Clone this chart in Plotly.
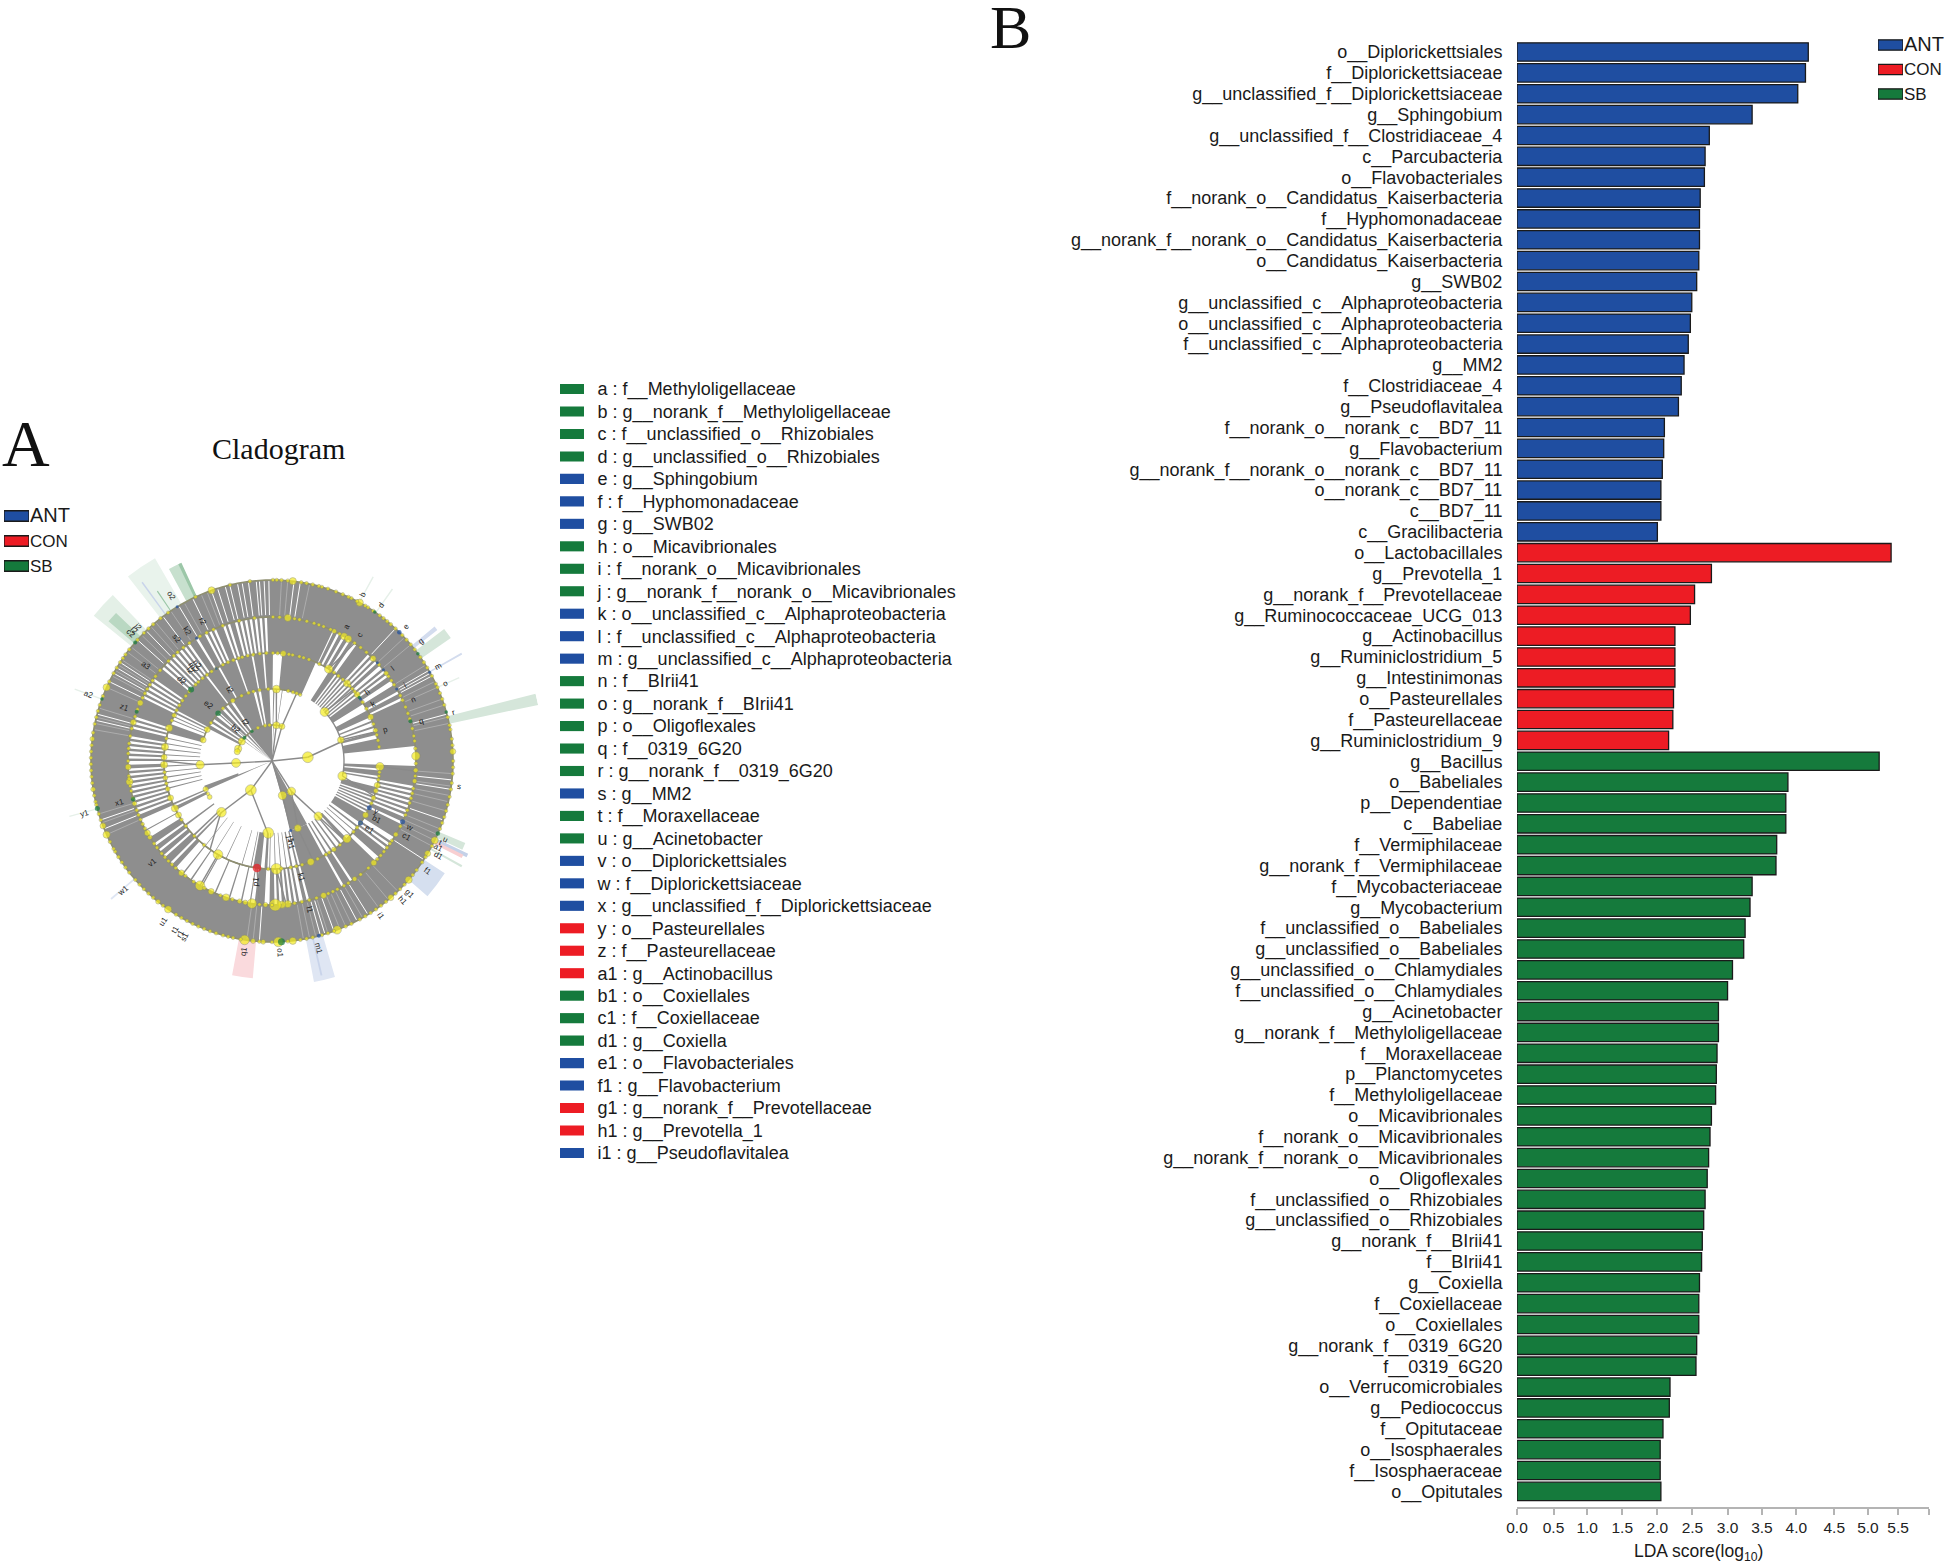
import numpy as np
import plotly.graph_objects as go

W, H = 1946, 1563
BLUE, RED, GREEN = "#1f4ea1", "#ed1c24", "#157a3c"
GROUP_COLOR = {"A": BLUE, "C": RED, "S": GREEN}
INK = "#1a1a1a"

# ---------- panel B: LDA bars ----------
ANT_NAMES = ["o__Diplorickettsiales", "f__Diplorickettsiaceae", "g__unclassified_f__Diplorickettsiaceae", "g__Sphingobium",
             "g__unclassified_f__Clostridiaceae_4", "c__Parcubacteria", "o__Flavobacteriales",
             "f__norank_o__Candidatus_Kaiserbacteria", "f__Hyphomonadaceae", "g__norank_f__norank_o__Candidatus_Kaiserbacteria",
             "o__Candidatus_Kaiserbacteria", "g__SWB02", "g__unclassified_c__Alphaproteobacteria",
             "o__unclassified_c__Alphaproteobacteria", "f__unclassified_c__Alphaproteobacteria", "g__MM2", "f__Clostridiaceae_4",
             "g__Pseudoflavitalea", "f__norank_o__norank_c__BD7_11", "g__Flavobacterium", "g__norank_f__norank_o__norank_c__BD7_11",
             "o__norank_c__BD7_11", "c__BD7_11", "c__Gracilibacteria"]
ANT_VALUES = [4.15, 4.11, 4.00, 3.35, 2.74, 2.68, 2.67, 2.61, 2.60, 2.60, 2.59, 2.56, 2.49, 2.47, 2.44, 2.38, 2.34, 2.30,
              2.10, 2.09, 2.07, 2.05, 2.05, 2.00]
CON_NAMES = ["o__Lactobacillales", "g__Prevotella_1", "g__norank_f__Prevotellaceae", "g__Ruminococcaceae_UCG_013",
             "g__Actinobacillus", "g__Ruminiclostridium_5", "g__Intestinimonas", "o__Pasteurellales", "f__Pasteurellaceae",
             "g__Ruminiclostridium_9"]
CON_VALUES = [5.33, 2.77, 2.53, 2.47, 2.25, 2.25, 2.25, 2.23, 2.22, 2.16]
SB_NAMES = ["g__Bacillus", "o__Babeliales", "p__Dependentiae", "c__Babeliae", "f__Vermiphilaceae", "g__norank_f__Vermiphilaceae",
            "f__Mycobacteriaceae", "g__Mycobacterium", "f__unclassified_o__Babeliales", "g__unclassified_o__Babeliales",
            "g__unclassified_o__Chlamydiales", "f__unclassified_o__Chlamydiales", "g__Acinetobacter",
            "g__norank_f__Methyloligellaceae", "f__Moraxellaceae", "p__Planctomycetes", "f__Methyloligellaceae", "o__Micavibrionales",
            "f__norank_o__Micavibrionales", "g__norank_f__norank_o__Micavibrionales", "o__Oligoflexales",
            "f__unclassified_o__Rhizobiales", "g__unclassified_o__Rhizobiales", "g__norank_f__BIrii41", "f__BIrii41", "g__Coxiella",
            "f__Coxiellaceae", "o__Coxiellales", "g__norank_f__0319_6G20", "f__0319_6G20", "o__Verrucomicrobiales", "g__Pediococcus",
            "f__Opitutaceae", "o__Isosphaerales", "f__Isosphaeraceae", "o__Opitutales"]
SB_VALUES = [5.16, 3.86, 3.83, 3.83, 3.70, 3.69, 3.35, 3.32, 3.25, 3.23, 3.07, 3.00, 2.87, 2.87, 2.85, 2.84, 2.83, 2.77, 2.75,
             2.73, 2.71, 2.68, 2.66, 2.64, 2.63, 2.60, 2.59, 2.59, 2.56, 2.55, 2.18, 2.17, 2.08, 2.04, 2.04, 2.05]
X_TICK_POS = [0, 0.52, 1.0, 1.5, 2.0, 2.5, 3.0, 3.49, 3.98, 4.52, 5.0, 5.43]
X_TICK_TEXT = ["0.0", "0.5", "1.0", "1.5", "2.0", "2.5", "3.0", "3.5", "4.0", "4.5", "5.0", "5.5"]
X_END_TICK = [5.87]

# ---------- legends ----------
LEGEND_NAMES = ["ANT", "CON", "SB"]
LEGEND_BARS = [1, 1, 1]

# ---------- panel A: key ----------
KEY_LABELS = ["a : f__Methyloligellaceae", "b : g__norank_f__Methyloligellaceae", "c : f__unclassified_o__Rhizobiales",
              "d : g__unclassified_o__Rhizobiales", "e : g__Sphingobium", "f : f__Hyphomonadaceae", "g : g__SWB02",
              "h : o__Micavibrionales", "i : f__norank_o__Micavibrionales", "j : g__norank_f__norank_o__Micavibrionales",
              "k : o__unclassified_c__Alphaproteobacteria", "l : f__unclassified_c__Alphaproteobacteria",
              "m : g__unclassified_c__Alphaproteobacteria", "n : f__BIrii41", "o : g__norank_f__BIrii41", "p : o__Oligoflexales",
              "q : f__0319_6G20", "r : g__norank_f__0319_6G20", "s : g__MM2", "t : f__Moraxellaceae", "u : g__Acinetobacter",
              "v : o__Diplorickettsiales", "w : f__Diplorickettsiaceae", "x : g__unclassified_f__Diplorickettsiaceae",
              "y : o__Pasteurellales", "z : f__Pasteurellaceae", "a1 : g__Actinobacillus", "b1 : o__Coxiellales", "c1 : f__Coxiellaceae",
              "d1 : g__Coxiella", "e1 : o__Flavobacteriales", "f1 : g__Flavobacterium", "g1 : g__norank_f__Prevotellaceae",
              "h1 : g__Prevotella_1", "i1 : g__Pseudoflavitalea"]
KEY_GROUPS = list("SSSSAAASSSAAASSSSSASSAAACCCSSSAACCA")
KEY_BARS = [1] * 35

# ---------- panel A: cladogram sectors, (start, end) in degrees clockwise from the top ----------
BAND_E = [(0, 360)]
BAND_E_SLITS = [-19.6, -17.5, -15, -13.5, -11, -9.5, -7.5, -5, -4, -2.5, -1, 7, 9, 43, 60, 61, 62, 75, 96, 99, 109, 123, 148,
                152, 160, 163, 164.5, 184, 248, 251, 283, 285, 296, 299, 301, 303, 312, 316, 323, 329, 334]
BAND_E_STREAKS = [-23, -21, 3, 5, 12, 47, 50, 58, 64, 66, 70, 72, 76, 78, 94, 98, 101, 103, 106, 112, 114, 116, 118, 136, 140, 144, 150,
                  154, 156, 158, 162, 166, 168, 170, 186, 188, 246, 250, 253, 280, 282, 284, 287, 294, 298, 300, 302, 304, 307, 309, 314,
                  318, 320, 326, 331]
BAND_D = [(0, 25), (25.5, 27), (28, 29.5), (30.5, 32), (33, 34.5), (36, 42), (43, 44), (45, 46), (47, 48.5), (50, 51), (52, 53),
          (54, 56), (58, 61), (62, 64), (65, 84), (92, 100), (101, 102), (103, 104), (105, 106), (107, 108), (109, 110), (111, 112),
          (113, 115), (116, 122), (124, 125), (126, 127), (128, 132), (134, 146), (147, 150), (151, 165), (166, 167.5), (169, 170),
          (171, 172), (173, 174), (175, 176), (177, 178), (179, 181), (183, 187), (188.5, 189), (192, 192.6), (197, 197.6),
          (203, 203.6), (209, 209.5), (214, 214.6), (218, 218.6), (222, 224), (225, 228), (229, 231), (232, 234), (235, 238),
          (241, 241.5), (246, 248), (249, 250), (251, 252), (253, 254), (255, 256), (257, 258), (259, 260), (261, 262), (263, 264),
          (265, 266), (267, 268.5), (270, 271), (272, 273), (274, 275), (276, 277), (278, 279), (280, 283), (284, 285), (286, 287),
          (288, 296), (297, 298), (299, 300), (301, 302), (303, 304), (305, 310), (311, 312), (313, 314), (315, 316), (317, 318),
          (319, 320), (321, 322), (323, 324), (325, 328), (329, 332), (333, 334), (335, 336), (337, 340), (341, 342), (343, 345),
          (346, 347), (348, 349), (350, 351), (352, 353), (354, 355), (356, 357), (358, 360)]
BAND_C = [(0, 0.5), (5.5, 24), (32.5, 36), (37, 38), (39, 40), (41, 42), (43, 44), (45, 46), (47, 48), (49, 50), (51, 52), (53, 58),
          (62, 66), (68, 69), (71, 72), (74, 76), (78, 84), (92, 94), (95, 98), (99, 100), (104, 108), (109, 110), (111, 112),
          (113, 114), (115, 116), (117, 118), (119, 125), (127, 128), (130, 130.6), (133, 133.6), (136, 138), (140, 141), (143, 144),
          (146, 147), (149, 150), (151.5, 165), (166, 167), (169, 170), (172, 172.5), (175, 175.5), (178, 178.5), (181, 181.5),
          (183, 184), (186, 190), (191, 191.5), (196, 196.4), (205, 205.4), (212, 212.4), (218, 218.4), (224, 225), (226, 227),
          (233, 234), (243, 245), (246, 247), (255, 255.6), (258, 258.6), (261, 261.6), (264, 264.6), (267, 267.6), (270, 270.6),
          (273, 273.6), (276, 276.6), (279, 279.6), (282, 282.6), (285, 290), (292, 292.6), (294, 294.6), (296, 297), (298, 322),
          (323, 330), (331, 340), (341, 349), (350, 355), (356, 360)]
BAND_B = [(297, 300), (302, 304), (306, 309), (311, 312), (313, 316), (318, 320), (322, 325), (327, 345), (347, 349), (351, 358),
          (1, 2), (8, 8.6), (151, 165), (246, 250)]
BAND_A = [(305, 306), (310, 311.5), (315, 318), (320, 360), (2, 3), (151, 165), (246, 248)]
BAND_EDGES = [(144, 181), (108, 144), (72, 108), (36, 72), (0, 36)]
BAND_SECTORS = [BAND_E, BAND_D, BAND_C, BAND_B, BAND_A]

# highlights
CLADE_THETA = [-34, -26.6, -47.3, -48, 187.8, 166.5, 127, 76.9, 54, 51, 60.5, 66, 28.8, 35, 114, 115.8, 116.6, 119, 254.7, 290, 229.4,
               -36, -34, -25, 167]
CLADE_WIDTH = [8, 3.2, 7, 3, 5.5, 5.5, 8, 2.4, 3, 1.2, 0.5, 0.4, 0.4, 0.4, 2, 1, 1, 0.6, 0.4, 0.4, 0.5, 0.4, 0.35, 0.9, 0.5]
CLADE_BASE = [181] * 25
CLADE_TOP = [234, 218, 230, 215, 218, 225, 206, 272, 217, 211, 218, 205, 210, 210, 210, 217, 213, 217, 210, 210, 212, 221, 205, 218, 220]
CLADE_COLOR = ["#e9f3ec", "#c7e0ce", "#e4f0e7", "#b9d8c2", "#fadadd", "#dfe6f3", "#d5dfef", "#d5e6da", "#d5e6da", "#d3dcee", "#d3dcee",
               "#e6f0e9", "#e6f0e9", "#e6f0e9", "#d5e6da", "#c4d1e8", "#f8cfd1", "#d5e6da", "#e6f0e9", "#e6f0e9", "#dfe6f3", "#c9d4ea",
               "#9cc7a8", "#9cc7a8", "#c9d4ea"]

# tree links: parent theta, parent r, arc start, arc end, arc r
LINK_PT = [84, 267, 216, 163, 147.5, 7, 16, 84, 267, 216, 216, 147.5, 147.5, 163, 7, 16, 47, 73, 102, 140, 159, 183, 224.6, 267,
           31.7, 93, 210, 177.7, 188]
LINK_PR = [0, 0, 0, 0, 0, 0, 0, 36, 37, 36, 36, 36, 36, 36, 36, 36, 72, 72, 72, 72, 72, 73, 73, 73, 108, 108, 109, 108, 108]
LINK_A = [84, 267, 216, 163, 147.5, 7, 16, 47, 267, 183, 224.6, 140, 159, 165, 3.5, 20, 31.7, 66, 93, 125, 150, 177.7, 190, 240,
          25, 88, 198, 170, 182]
LINK_B = [84, 267, 216, 163, 147.5, 7, 16, 102, 267, 183, 224.6, 140, 159, 165, 3.5, 20, 66, 82.5, 125, 150, 165, 188, 240, 300,
          45, 100, 222, 178.7, 188]
LINK_R = [36, 37, 36, 36, 36, 36, 36, 72, 73, 73, 73, 72, 72, 72, 72, 72, 108, 108, 108, 108, 108, 108, 108, 108, 144, 144, 144, 144, 144]
RING_ARC_FROM = [0, 93, 287, 285, 0]
RING_ARC_TO = [360, 443, 383, 376, 360]
RING_ARC_R = [181, 108, 72, 36, 144]

# nodes
NODE36 = [84, 267, 216, 163, 147.5, 7, 16, -57, -70, -75, -23, -11, -4]
SIZE36 = [9, 7.5, 9, 7, 7, 6, 5, 6, 6, 5, 3, 3, 3]
NODE72 = [3.5, 47, 73, 102, 140, 159, 183, 224.6, 267, 247, 240, 243, 287, 296, 302, 317, 327, 335, 341, 345, 350, 357, 13, 17, 20, 23]
SIZE72 = [6.5, 7.5, 5.5, 7.5, 7, 6, 9, 8, 7, 4.5, 4, 3, 5, 5, 3, 3, 4, 3, 3, 3, 3, 3, 3, 3, 3, 3]
NODE108 = [31.7, 44, 52, 66, 73.5, 82.5, 93, 103, 110, 120, 136, 145, 150, 159, 163.8, 177.7, 210, 240, 244, 250, 255, 261, 268, 272,
           277.5, 287.8, 295, 301, 317, 323, 329, 333, 339, 344, 353.5, 0.5, 6, 11, 14.7, 20, 38, 48, 57, 100, 106, 155, 170, 292, 310, 315,
           3, 9, 17, 26, 35, 41, 46, 50, 61, 70, 76, 79, 96, 98, 113, 125, 128, 131, 141, 148, 167, 175, 182, 219, 226, 233, 237, 258, 264,
           282, 298, 304, 307, 320, 326, 336, 342, 347, 350, 357]
SIZE108 = [7, 6, 5, 5, 4, 3, 7, 5, 4, 5, 7, 4, 3, 6, 3, 9, 8, 5, 6, 5, 4, 4, 6, 5, 6, 6, 4, 3, 3, 3, 3, 3, 3, 3, 3, 3, 5, 3, 3, 3, 3, 3, 3, 3, 4, 3, 3, 3, 3, 3,
           3, 3, 3, 3, 3, 3, 3, 3, 3, 3, 3, 3, 3, 3, 3, 3, 3, 3, 3, 3, 3, 3, 3, 3, 3, 3, 3, 3, 3, 3, 3, 3, 3, 3, 3, 3, 3, 3, 3, 3]
NODE144 = [6.3, 9, 14, 21, 25.6, 30, 32, 38, 44.6, 52.5, 70.7, 82, 88, 93.7, 98, 103, 107, 120.7, 123.6, 127, 135, 145, 150, 159, 165,
           171, 173.7, 176, 178.7, 182.6, 188, 190.7, 193, 198.6, 205, 210, 217, 219, 226, 238, 240, 244, 252.8, 261.7, 267.6, 273,
           277, 285.6, 293.8, 296, 302, 317, 322, 340, 346.8, 353, 0.4, 41, 56, 65, 77, 112, 131, 155, 230, 248, 258, 264, 280, 306, 333,
           3, 11, 17, 19, 24, 28, 35, 48, 54, 58, 63, 68, 73, 80, 85, 91, 96, 101, 105, 110, 117, 125, 129, 133, 138, 142, 148, 153, 157, 162,
           168, 180, 185, 196, 201, 208, 213, 222, 224, 228, 233, 235, 242, 246, 250, 255, 260, 263, 270, 275, 283, 288, 291, 298, 300, 304, 309, 314, 319,
           325, 330, 336, 338, 343, 350, 357]
SIZE144 = [6, 3, 3, 3, 4, 6, 6, 3, 5, 4, 3, 3, 7, 4, 4, 3, 3, 4, 3, 3, 5, 4, 3, 5, 3, 3, 6, 6, 10, 4, 8, 4, 4, 6, 5, 8, 3, 5, 3, 4, 5, 3, 4, 6,
           5, 3, 3, 5, 5, 3, 3, 3, 3, 3, 3, 3, 3, 3, 3, 3, 3, 3, 3, 3, 3, 3, 3, 3, 3, 3, 3] + [3] * 62
NODE181 = [6.6, 9.3, 13, 20.7, 23, 29, 36.5, 39.5, 64.8, 72, 78.6, 87, 92, 97, 101.4, 106, 116, 120.7, 131, 139, 158.9, 173.4, 178, 182.8, 186,
           188.7, 192.4, 195.7, 206, 215, 219, 232, 243.5, 246, 249, 261, 269, 277, 281.8, 286, 294, 304.6, 317, 340.5, 346.6, 353, 0.3,
           3, 16, 26, 32, 48, 57, 68, 83, 110, 124, 127, 135, 143, 149, 154, 162, 169, 200, 210, 223, 227, 236, 240, 257, 265, 273, 299, 322, 335,
           1.5, 5, 11, 15, 18, 25, 28, 31, 34, 38, 41, 43, 46, 50, 52, 55, 59, 62, 66, 70, 76, 80, 85, 90, 94, 99, 104, 108, 112, 118, 122, 129,
           133, 137, 141, 145, 147, 151, 156, 160, 164, 167, 171, 175, 180, 184, 190, 194, 198, 202, 204, 208, 212, 217, 221, 225, 229, 234, 238, 241,
           251, 253, 256, 259, 263, 267, 271, 275, 279, 284, 288, 291, 296, 301, 303, 306, 308, 312, 315, 319, 325, 327, 330, 333, 338, 343, 348, 351, 356, 358]
SIZE181 = [6, 3, 3, 3, 3, 6, 3, 3, 3, 3, 3, 5, 3, 3, 3, 3, 6, 5, 6, 5, 7, 6, 8, 4, 4, 8, 3, 3, 3, 6, 4, 3, 3, 6, 5, 4, 3, 4, 3, 3, 6, 3, 3, 6, 3, 3, 3,
           3, 3, 3, 3, 3, 3, 3, 3, 3, 3, 3, 3, 3, 3, 3, 3, 3, 3, 3, 3, 3, 3, 3, 3, 3, 3, 3, 3, 3] + [3] * 81
GREEN_THETA = [-34, -50, 311.5, 311.5, 74, 290, 254.6, 34.6, 53.7, 74.3, 113.6, 177, 254.8, 290, 310.9, 54]
GREEN_R = [36, 36, 72, 108, 144, 144, 144, 181, 181, 181, 181, 181, 181, 181, 181, 108]
GREEN_SIZE = [3.5, 4, 5.5, 6, 4, 4, 4.5, 3.5, 3.5, 3.5, 4.5, 7, 5, 3.5, 4, 3.5]
BLUE_THETA = [165, 115.7, 125, 50.7, 60, 115, 328.4, 44.7, 60.6, 165, 328.4, 329, 47, 55]
BLUE_R = [72, 108, 108, 144, 144, 144, 144, 181, 181, 181, 181, 108, 144, 108]
BLUE_SIZE = [3, 5, 5, 3, 3, 5, 3, 4.5, 3, 4, 3, 3, 3, 3]
RED_THETA = [188]
RED_R = [108]
RED_SIZE = [8.5]

# small clade labels
LABEL_TEXT = ["b", "d", "e", "g", "m", "o", "r", "s", "u", "t", "a1", "d1", "f1", "g1", "h1", "i1", "m1", "o1", "q1", "s1", "r1", "t1", "u1", "w1",
              "y1", "a2", "c2", "i2", "j2", "o2", "a", "c", "l", "i", "n", "q", "v1", "x1", "z1", "r2", "k2", "s2", "a3", "h", "k", "p", "y", "b1",
              "e1", "c1", "w", "k1", "l1", "p1", "d2", "e2", "b2", "f2", "t2", "j1", "h1", "l2", "m2", "n2"]
LABEL_THETA = [28.5, 35, 45, 51.3, 60.5, 66, 75, 97.7, 114.5, 116, 117.4, 119.6, 125.3, 134, 136.8, 145, 166, 177.7, 188.3, 206.4, 208, 210, 214, 229,
               254.5, 290, 312, 313.5, 315, 328.7, 29, 35, 52.6, 60.3, 66.4, 75, 229.6, 254.8, 290, 333.6, 327, 322, 307, 54, 60.6, 74.5, 116, 119.3,
               125, 119.5, 115.6, 165.8, 165.8, 187.4, 311.7, 311.5, 311, 325.6, 329, 167, 167.5, 318, 320, 322]
LABEL_R = [190, 190, 190, 190.5, 191, 190, 188, 189, 190, 187, 187, 191, 191, 191, 191, 190, 193, 192, 193, 196, 195, 194, 194, 197, 195, 195, 190, 190,
           190, 194, 154, 154, 152, 153, 154, 154, 157, 158, 157, 156, 155, 155, 158, 117, 117, 118, 116, 120, 119, 154, 153, 120, 154, 122, 121, 85.4,
           49, 47, 83, 80, 86, 122, 122, 122]

# ---------- figure ----------
CX, CY, RMAX = 272, 761, 272


def px(x):
    return x / W


def py(y):
    return 1 - y / H


fig = go.Figure()

all_names = ANT_NAMES + CON_NAMES + SB_NAMES
for names, values, color, lab in [(ANT_NAMES, ANT_VALUES, BLUE, "ANT"), (CON_NAMES, CON_VALUES, RED, "CON"), (SB_NAMES, SB_VALUES, GREEN, "SB")]:
    fig.add_trace(go.Bar(x=values, y=names, orientation="h", name=lab, width=0.88,
                         marker=dict(color=color, line=dict(color=INK, width=1.3)), xaxis="x", yaxis="y", showlegend=False))

for xa, ya in [("x2", "y2"), ("x3", "y3")]:
    fig.add_trace(go.Bar(x=LEGEND_BARS, y=LEGEND_NAMES, orientation="h", width=0.42,
                         marker=dict(color=[BLUE, RED, GREEN], line=dict(color=INK, width=1.3)), xaxis=xa, yaxis=ya, showlegend=False))

fig.add_trace(go.Bar(x=KEY_BARS, y=KEY_LABELS, orientation="h", width=0.45,
                     marker=dict(color=[GROUP_COLOR[g] for g in KEY_GROUPS], line=dict(width=0)), xaxis="x4", yaxis="y4", showlegend=False))

GRAY = "#8e8e8e"
for (inner, outer), sectors in zip(BAND_EDGES, BAND_SECTORS):
    fig.add_trace(go.Barpolar(theta=[(a + b) / 2 for a, b in sectors], width=[b - a for a, b in sectors],
                              base=[inner] * len(sectors), r=[outer - inner] * len(sectors),
                              marker=dict(color=GRAY, line=dict(width=0)), subplot="polar", showlegend=False, hoverinfo="skip"))
fig.add_trace(go.Barpolar(theta=CLADE_THETA, width=CLADE_WIDTH, base=CLADE_BASE, r=[t - b for t, b in zip(CLADE_TOP, CLADE_BASE)],
                          marker=dict(color=CLADE_COLOR, line=dict(width=0)), subplot="polar", showlegend=False, hoverinfo="skip"))

for angles, colour, lw in [(BAND_E_STREAKS, "#adadad", 1), (BAND_E_SLITS, "white", 1)]:
    st, sr = [], []
    for a in angles:
        st += [a, a, None]
        sr += [146, 180, None]
    fig.add_trace(go.Scatterpolar(theta=st, r=sr, mode="lines", line=dict(color=colour, width=lw), subplot="polar", showlegend=False, hoverinfo="skip"))

lt, lr = [], []
for pt, pr, a, b, r in zip(LINK_PT, LINK_PR, LINK_A, LINK_B, LINK_R):
    mid = (a + b) / 2
    arc = list(np.linspace(a, b, max(2, int(abs(b - a)) + 1)))
    lt += [pt, mid, None] + arc + [None]
    lr += [pr, r, None] + [r] * len(arc) + [None]
fig.add_trace(go.Scatterpolar(theta=lt, r=lr, mode="lines", line=dict(color="#8a8a8a", width=1.4), subplot="polar", showlegend=False, hoverinfo="skip"))
rt, rr = [], []
for a, b, r in zip(RING_ARC_FROM, RING_ARC_TO, RING_ARC_R):
    arc = list(np.linspace(a, b, int(b - a) + 1))
    rt += arc + [None]
    rr += [r] * len(arc) + [None]
fig.add_trace(go.Scatterpolar(theta=rt, r=rr, mode="lines", line=dict(color="#8f8f70", width=1.6), subplot="polar", showlegend=False, hoverinfo="skip"))

for thetas, r, sizes in [(NODE181, 181, SIZE181), (NODE144, 144, SIZE144), (NODE108, 108, SIZE108), (NODE72, 72, SIZE72), (NODE36, 36, SIZE36)]:
    fig.add_trace(go.Scatterpolar(theta=thetas, r=[r] * len(thetas), mode="markers",
                                  marker=dict(color="#f5ec1e", size=[s * 1.2 for s in sizes], line=dict(color="#85856a", width=0.6)),
                                  subplot="polar", showlegend=False, hoverinfo="skip"))
for thetas, rs, sizes, c in [(GREEN_THETA, GREEN_R, GREEN_SIZE, GREEN), (BLUE_THETA, BLUE_R, BLUE_SIZE, BLUE), (RED_THETA, RED_R, RED_SIZE, RED)]:
    fig.add_trace(go.Scatterpolar(theta=thetas, r=rs, mode="markers", marker=dict(color=c, size=sizes, line=dict(width=0)),
                                  subplot="polar", showlegend=False, hoverinfo="skip"))

annotations = []
for t, th, r in zip(LABEL_TEXT, LABEL_THETA, LABEL_R):
    rad = np.deg2rad(th)
    ang = th - 90 if th < 180 else th + 90
    annotations.append(dict(text=t, x=px(CX + r * np.sin(rad)), y=py(CY - r * np.cos(rad)), xref="paper", yref="paper", showarrow=False,
                            font=dict(family="Liberation Sans", size=8, color="#222222"), textangle=ang, xanchor="center", yanchor="middle"))
for text, x, y, size in [("A", 0, 443, 66), ("B", 988, 27, 62), ("Cladogram", 210, 449, 30)]:
    annotations.append(dict(text=text, x=px(x), y=py(y), xref="paper", yref="paper", showarrow=False, xanchor="left", yanchor="middle",
                            font=dict(family="Liberation Serif", size=size, color="#111111")))
annotations.append(dict(text="LDA score(log<sub>10</sub>)", x=px(1698), y=py(1552), xref="paper", yref="paper", showarrow=False,
                        xanchor="center", yanchor="middle", font=dict(family="Liberation Sans", size=17.5, color=INK)))


def ydom(top, bottom):
    return [py(bottom), py(top)]


hidden_x = dict(range=[0, 1], visible=False, fixedrange=True, automargin=False)
LEGEND_TEXT = ['<span style="font-size:20px">ANT</span>', "CON", "SB"]
side_y = dict(side="right", type="category", showgrid=False, zeroline=False, showline=False, ticks="", automargin=False,
              tickmode="array", tickvals=LEGEND_NAMES, ticktext=LEGEND_TEXT, range=[2.5, -0.5], tickfont=dict(size=17, color=INK))
fig.update_layout(
    width=W, height=H, autosize=False, margin=dict(l=0, r=0, t=0, b=0), paper_bgcolor="white", plot_bgcolor="white",
    font=dict(family="Liberation Sans", color=INK), barmode="overlay", annotations=annotations,
    xaxis=dict(domain=[px(1517), px(1929)], range=[0, 5.87], anchor="y", tickmode="array", tickvals=X_TICK_POS, ticktext=X_TICK_TEXT,
               showgrid=False, zeroline=False, showline=True, linecolor="#b4b4b4", linewidth=1.5, ticks="outside", ticklen=6, tickwidth=1.5,
               tickcolor="#b4b4b4", tickfont=dict(size=15.5, color="#222222"), automargin=False,
               minor=dict(tickmode="array", tickvals=X_END_TICK, ticks="outside", ticklen=6, tickwidth=1.5, tickcolor="#b4b4b4", showgrid=False)),
    yaxis=dict(domain=ydom(41.6, 1507), range=[69.75, -0.5], anchor="x", type="category", categoryorder="array", categoryarray=all_names,
               tickmode="array", tickvals=all_names, ticktext=all_names, showgrid=False, zeroline=False, showline=False, ticks="outside",
               ticklen=10, tickcolor="rgba(0,0,0,0)", tickfont=dict(size=18, color=INK), automargin=False),
    xaxis2=dict(domain=[px(1878), px(1903)], anchor="y2", **hidden_x),
    yaxis2=dict(domain=ydom(32.75, 106.25), anchor="x2", **side_y),
    xaxis3=dict(domain=[px(4), px(29)], anchor="y3", **hidden_x),
    yaxis3=dict(domain=ydom(503.5, 578.5), anchor="x3", **side_y),
    xaxis4=dict(domain=[px(560), px(584)], anchor="y4", **hidden_x),
    yaxis4=dict(domain=ydom(377.8, 1164.2), range=[34.5, -0.5], anchor="x4", side="right", type="category", categoryorder="array",
                categoryarray=KEY_LABELS, tickmode="array", tickvals=KEY_LABELS, ticktext=KEY_LABELS, showgrid=False, zeroline=False,
                showline=False, ticks="outside", ticklen=9, tickcolor="rgba(0,0,0,0)", tickfont=dict(size=18, color=INK), automargin=False),
    polar=dict(domain=dict(x=[px(CX - RMAX), px(CX + RMAX)], y=[py(CY + RMAX), py(CY - RMAX)]), bgcolor="rgba(0,0,0,0)", barmode="overlay",
               radialaxis=dict(range=[0, RMAX], visible=False), angularaxis=dict(visible=False, direction="clockwise", rotation=90)),
)

fig.write_html("out.html", config=dict(displayModeBar=False), post_script="document.body.style.margin='0';")
